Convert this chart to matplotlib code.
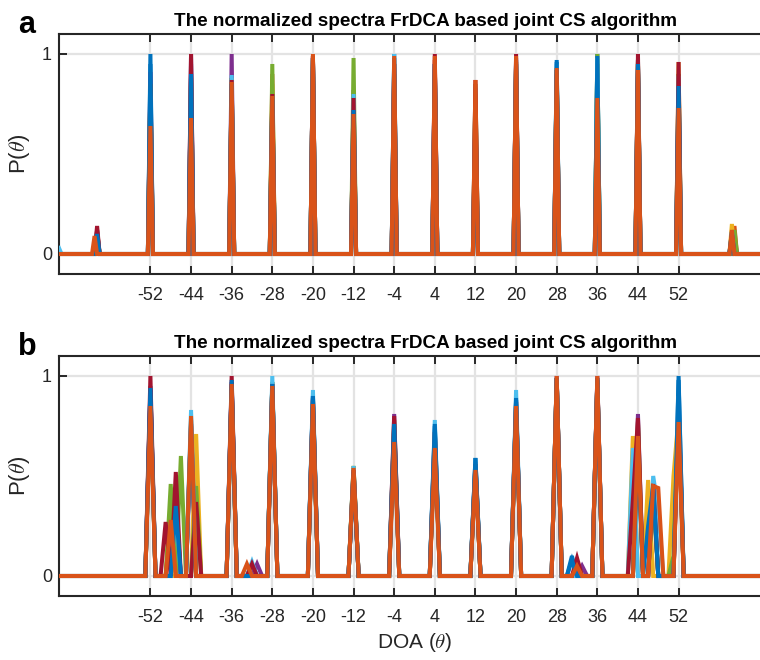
import numpy as np
import matplotlib
matplotlib.use("Agg")
import matplotlib.pyplot as plt

plt.rcParams['font.family'] = ['Liberation Sans', 'DejaVu Sans']
plt.rcParams['mathtext.fontset'] = 'cm'

# MATLAB default line colour order, one colour per Monte-Carlo trial
trial_colors = ['#0072BD', '#D95319', '#EDB120', '#7E2F8E', '#77AC30',
                '#4DBEEE', '#A2142F', '#0072BD', '#D95319']

xtick_vals = [-52, -44, -36, -28, -20, -12, -4, 4, 12, 20, 28, 36, 44, 52]
ytick_vals = [0, 1]

# ---- panel a: peak locations (deg) and normalized peak heights per trial ----
grid_step_a = 0.5
peaks_a = [-70, -63, -62.5, -52, -44, -36, -28, -20, -12, -4, 4, 12, 20, 28,
           36, 44, 52, 62.5, 63]
heights_a = [
    [0, 0, .11, 1.00, .95, .80, .75, .98, .74, 1.00, .95, .70, .97, .97, 1.00, .95, .84, .11, 0],
    [0, 0, .10, .80, .90, .88, .90, .98, .80, .95, .97, .80, .95, .90, .95, .95, .90, 0, .14],
    [0, 0, .12, .85, .88, .83, .85, .97, .80, .84, .84, .80, .96, .92, .92, .96, .96, .15, 0],
    [0, 0, .12, .91, 1.00, 1.00, .80, .99, .82, .90, .95, .72, .98, .90, .90, .97, .80, 0, .08],
    [0, 0, .10, .85, .88, .88, .95, .98, .98, .90, .92, .85, .96, .92, 1.00, .97, .90, 0, .12],
    [.03, 0, .11, .79, .90, .895, .79, .98, .80, 1.00, .95, .83, .97, .95, .98, .90, .89, .11, 0],
    [0, 0, .14, .85, 1.00, .87, .80, .99, .78, .95, 1.00, .87, 1.00, .92, .77, 1.00, .96, .10, 0],
    [0, 0, .10, .95, .90, .85, .77, .98, .72, .98, .95, .69, .95, .96, .99, .95, .84, .11, 0],
    [0, .09, 0, .64, .68, .86, .79, 1.00, .70, .99, .99, .87, .99, .93, .78, .92, .73, .12, 0],
]

# ---- panel b: peak locations (deg) and normalized peak heights per trial ----
grid_step_b = 1.0
peaks_b = [-52, -49, -48, -47, -46, -44, -43, -36, -33, -32, -31, -28, -20, -12,
           -4, 4, 12, 20, 28, 31, 32, 33, 36, 43, 44, 46, 47, 48, 51, 52]
heights_b = [
    # -52 -49 -48 -47 -46 -44 -43 -36 -33 -32 -31 -28 -20 -12  -4   4  12  20  28  31  32  33  36  43  44  46  47  48  51  52
    [.95, 0, 0, .37, 0, .78, 0, .97, 0, .06, 0, .97, .90, .53, .75, .75, .59, .88, .99, .10, 0, 0, .98, 0, .65, 0, .47, 0, 0, 1.00],
    [.90, 0, .30, 0, 0, .75, 0, .95, 0, 0, 0, .93, .88, .52, .72, .70, .55, .86, .98, 0, 0, 0, .97, 0, .68, 0, .42, 0, 0, .85],
    [.92, 0, 0, 0, 0, 0, .71, .94, 0, 0, 0, .95, .87, .55, .74, .72, .56, .87, .99, 0, .06, 0, .98, .70, 0, .48, 0, 0, .50, .80],
    [.93, 0, 0, .30, 0, .76, 0, .96, 0, 0, .06, .96, .88, .54, .81, .73, .57, .88, 1.00, 0, 0, .05, 1.00, 0, .81, 0, .44, 0, 0, .88],
    [.90, 0, .46, 0, .60, 0, .45, .94, 0, 0, 0, .97, .86, .55, .78, .70, .56, .86, .99, 0, 0, 0, .98, 0, .77, 0, .40, 0, .10, .85],
    [.92, 0, 0, .33, 0, .83, 0, .95, 0, .07, 0, 1.00, .93, .55, .76, .78, .58, .93, .99, 0, 0, 0, .98, .64, 0, 0, .50, .33, 0, .90],
    [1.00, .27, 0, .52, 0, 0, .37, 1.00, 0, .06, 0, .96, .89, .53, .80, .72, .56, .87, .99, 0, .09, 0, .99, .38, .79, 0, .46, 0, 0, .86],
    [.94, 0, 0, .35, 0, .76, 0, .98, 0, 0, 0, .96, .90, .52, .76, .76, .59, .89, .99, .08, 0, 0, .99, 0, .62, .25, .45, 0, 0, .98],
    [.85, 0, .28, 0, 0, .80, 0, .96, .06, 0, 0, .95, .86, .54, .67, .64, .53, .85, 1.00, 0, .05, 0, 1.00, 0, .70, 0, .45, .44, 0, .77],
]

theta_min, theta_max = -70, 70


def spectrum(step, peaks, heights):
    theta = np.arange(theta_min, theta_max + step / 2, step)
    p = np.zeros_like(theta)
    for ang, h in zip(peaks, heights):
        p[int(round((ang - theta_min) / step))] = h
    return theta, p


W, H = 760, 660
fig = plt.figure(figsize=(W / 100, H / 100), dpi=100)

panels = [
    ("a", grid_step_a, peaks_a, heights_a, (59, 34, 770, 274), False),
    ("b", grid_step_b, peaks_b, heights_b, (59, 356, 770, 596), True),
]

edge = '#262626'
for tag, step, peaks, heights, (x0, y0, x1, y1), xlab in panels:
    ax = fig.add_axes([x0 / W, 1 - y1 / H, (x1 - x0) / W, (y1 - y0) / H])
    for k, row in enumerate(heights):
        th, p = spectrum(step, peaks, row)
        ax.plot(th, p, color=trial_colors[k], lw=2.9, solid_joinstyle='miter',
                zorder=3)
    ax.set_xlim(theta_min, theta_max)
    ax.set_ylim(-0.1, 1.1)
    ax.set_xticks(xtick_vals)
    ax.set_xticklabels([str(v) for v in xtick_vals])
    ax.set_yticks(ytick_vals)
    ax.grid(True, color='#e3e3e3', lw=1.6, zorder=0)
    ax.set_axisbelow(True)
    ax.tick_params(axis='x', direction='in', top=True, bottom=True,
                   length=5.5, width=1.4, color=edge, labelsize=13,
                   pad=9, labelcolor='#262626')
    ax.tick_params(axis='y', direction='in', left=True, right=False,
                   length=5.5, width=1.4, color=edge, labelsize=13,
                   pad=5, labelcolor='#262626')
    for s in ax.spines.values():
        s.set_color(edge)
        s.set_linewidth(1.5)
    ax.set_ylabel(r'P($\theta$)', fontsize=16, color='#262626', labelpad=7)
    if xlab:
        ax.set_xlabel(r'DOA ($\theta$)', fontsize=15, color='#262626', labelpad=4)
    ax.set_title('The normalized spectra FrDCA based joint CS algorithm',
                 fontsize=13.6, fontweight='bold', x=(425 - x0) / (x1 - x0),
                 pad=6)
    fig.text(18 / W, 1 - (y0 - 1) / H, tag, fontsize=22, fontweight='bold',
             ha='left', va='baseline')

fig.savefig('out.png', dpi=100)
